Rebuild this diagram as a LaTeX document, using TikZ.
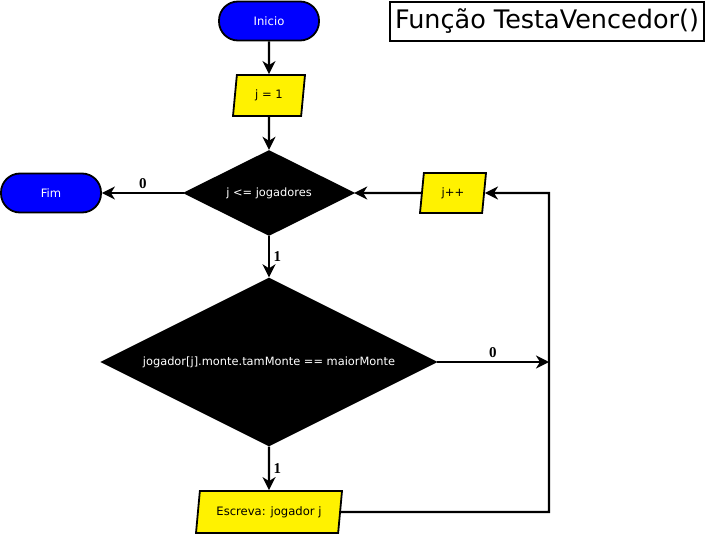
\documentclass[tikz,border=0pt]{standalone}
\usepackage{fontspec}
\setmainfont{DejaVu Sans}
\newfontfamily\numfont{Liberation Serif}
\usetikzlibrary{shapes.geometric,arrows.meta}
\tikzstyle{term}=[rectangle, draw, fill=blue, text=white, line width=1.8pt, rounded corners=19pt, minimum width=100pt, minimum height=39pt, font=\fontsize{11.6}{13}\selectfont]
\tikzstyle{io}=[trapezium, trapezium left angle=71, trapezium right angle=109, trapezium stretches body, draw, fill=yellow, line width=1.8pt, inner sep=0pt, font=\fontsize{11.6}{13}\selectfont]
\tikzstyle{test}=[diamond, aspect=2, draw, fill=black, text=white, inner sep=0pt, font=\fontsize{11.4}{13}\selectfont]
\tikzstyle{num}=[font=\numfont\bfseries\fontsize{15}{17}\selectfont]

\begin{document}
\begin{tikzpicture}[x=1pt, y=-1pt, line width=2.4pt, >={Stealth[length=13pt, width=13pt, inset=4pt]}]
                    \useasboundingbox (0, 0) rectangle (706, 535);
                    \node[term] (1) at (269, 21) {Inicio};
                    \node[io, minimum width=72pt, minimum height=41pt] (2) at (269, 95.5) {j = 1};
                    \node[test, minimum width=168pt, minimum height=84pt] (3) at (269, 193) {j <= jogadores};
                    \node[term] (4) at (51, 193) {Fim};
                    \node[io, minimum width=66pt, minimum height=40pt] (5) at (453, 193) {j++};
                    \node[test, minimum width=333pt, minimum height=167pt] (6) at (269, 362) {jogador[j].monte.tamMonte == maiorMonte};
                    \node[io, minimum width=146pt, minimum height=42pt] (7) at (269, 512) {Escreva: jogador j};
                    \node[rectangle, draw, line width=2.2pt, minimum width=314pt, minimum height=39pt, inner sep=0pt, font=\fontsize{25.5}{28}\selectfont] (8) at (547, 21.5) {Função TestaVencedor()};
                    \coordinate (9) at (549, 362);
                    \coordinate (10) at (549, 512);
                    \draw[->] (1)--(2);
                    \draw[->] (2)--(3);
                    \draw[->] (3.west)--node[num, above] {0} (4.east);
                    \draw[->] (5.west)--(3.east);
                    \draw[->] (3.south)--node[num, right] {1} (6.north);
                    \draw[->] (6.east)--node[num, above] {0} (9);
                    \draw[->] (6.south)--node[num, right] {1} (7.north);
                    \draw[->] (7.east)--(10) |- (5.east);
                \end{tikzpicture}
\end{document}
